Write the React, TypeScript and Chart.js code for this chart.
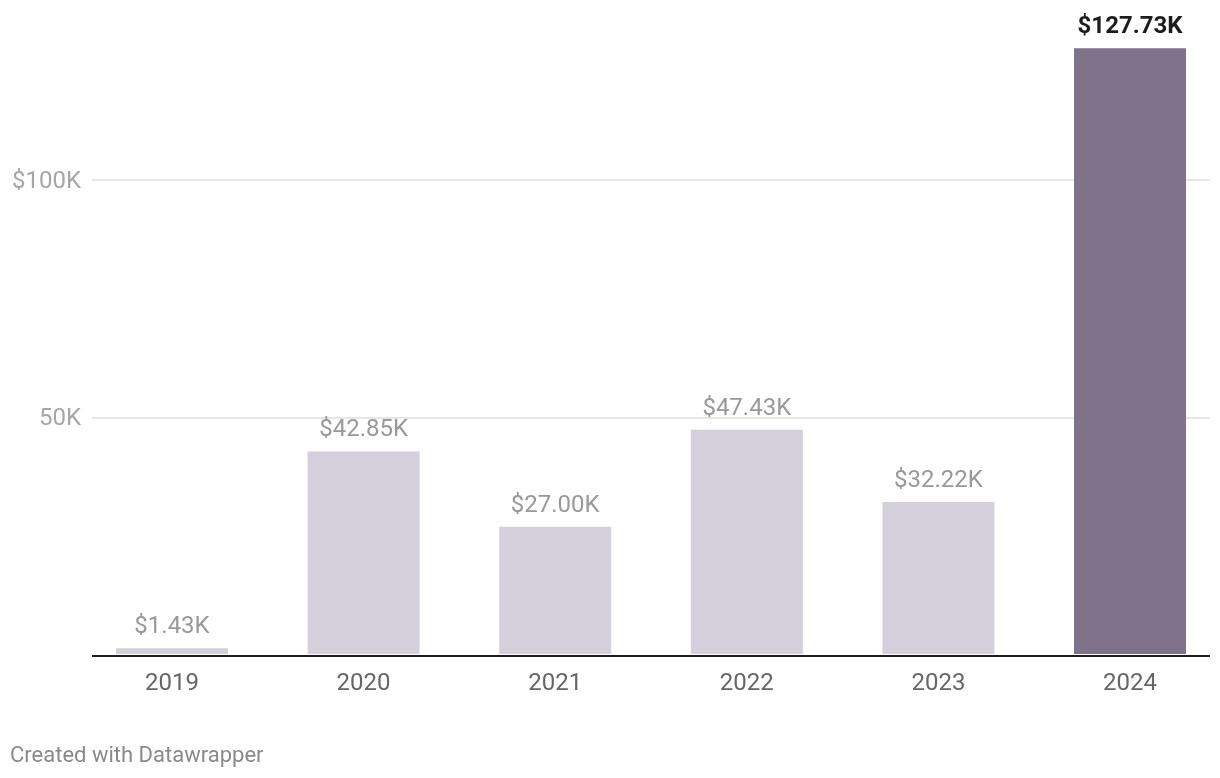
import React, { useEffect, useRef } from "react";
import { Chart, registerables } from "chart.js";

Chart.register(...registerables);

const years = ["2019", "2020", "2021", "2022", "2023", "2024"];
const revenue = [1430, 42850, 27000, 47430, 32220, 127730];
const valueLabels = ["$1.43K", "$42.85K", "$27.00K", "$47.43K", "$32.22K", "$127.73K"];
const barColors = ["#d3d0db", "#d3d0db", "#d3d0db", "#d3d0db", "#d3d0db", "#7e738b"];
const highlighted = [false, false, false, false, false, true];
const yTickValues = [0, 50000, 100000];
const yTickLabels = ["", "50K", "$100K"];
const footerText = "Created with Datawrapper";

const FONT = "Roboto, 'Noto Sans', sans-serif";

export default function App() {
  const canvasRef = useRef<HTMLCanvasElement | null>(null);

  useEffect(() => {
    const canvas = canvasRef.current;
    if (!canvas) return;

    const overlay = {
      id: "overlay",
      afterDatasetsDraw(chart: any) {
        const ctx = chart.ctx;
        const area = chart.chartArea;
        // baseline
        ctx.save();
        ctx.strokeStyle = "#1d1d1d";
        ctx.lineWidth = 2;
        ctx.beginPath();
        ctx.moveTo(area.left, area.bottom + 1);
        ctx.lineTo(area.right, area.bottom + 1);
        ctx.stroke();
        // value labels
        const meta = chart.getDatasetMeta(0);
        meta.data.forEach((bar: any, i: number) => {
          ctx.font = (highlighted[i] ? "bold " : "") + "24px " + FONT;
          ctx.fillStyle = highlighted[i] ? "#1d1d1d" : "#999999";
          ctx.textAlign = "center";
          ctx.textBaseline = "alphabetic";
          ctx.fillText(valueLabels[i], bar.x, bar.y - 15);
        });
        // footer
        ctx.font = "22px " + FONT;
        ctx.fillStyle = "#8a8a8a";
        ctx.textAlign = "left";
        ctx.textBaseline = "middle";
        ctx.fillText(footerText, 2, 748);
        ctx.restore();
      },
    };

    const chart = new Chart(canvas, {
      type: "bar",
      data: {
        datasets: [
          {
            data: revenue.map((v, i) => ({ x: i, y: v })),
            backgroundColor: barColors,
            borderWidth: 0,
            barPercentage: 0.5845,
            categoryPercentage: 1,
          },
        ],
      },
      options: {
        responsive: false,
        animation: false,
        layout: { padding: { top: 29.5, right: 2, bottom: 0, left: 0 } },
        plugins: {
          legend: { display: false },
          tooltip: { enabled: false },
        },
        scales: {
          x: {
            type: "linear",
            offset: false,
            min: -0.4175,
            max: 5.4175,
            grid: { display: false, drawTicks: false, tickLength: 0, offset: false },
            border: { display: false },
            afterBuildTicks: (scale: any) => {
              scale.ticks = years.map((_, i) => ({ value: i }));
            },
            afterFit: (scale: any) => {
              scale.height = 115;
            },
            ticks: {
              autoSkip: false,
              maxRotation: 0,
              padding: 15,
              color: "#666666",
              font: { family: FONT, size: 24 },
              callback: (v: any) => years[v as number] ?? "",
            },
          },
          y: {
            min: 0,
            max: 130000,
            grid: {
              color: (c: any) => (c.tick && c.tick.value === 0 ? "rgba(0,0,0,0)" : "#e6e6e6"),
              lineWidth: 2,
              drawTicks: false,
              tickLength: 0,
            },
            border: { display: false },
            afterBuildTicks: (scale: any) => {
              scale.ticks = yTickValues.map((v) => ({ value: v }));
            },
            afterFit: (scale: any) => {
              scale.width = 84;
            },
            ticks: {
              padding: 11,
              labelOffset: 1.5,
              color: "#a6a6a6",
              font: { family: FONT, size: 24 },
              callback: (v: any) => {
                const idx = yTickValues.indexOf(v as number);
                return idx >= 0 ? yTickLabels[idx] : "";
              },
            },
          },
        },
      },
      plugins: [overlay],
    });

    return () => chart.destroy();
  }, []);

  return (
    <div style={{ width: 1204, height: 762 }}>
      <canvas ref={canvasRef} width={1204} height={762} style={{ display: "block" }} />
    </div>
  );
}
